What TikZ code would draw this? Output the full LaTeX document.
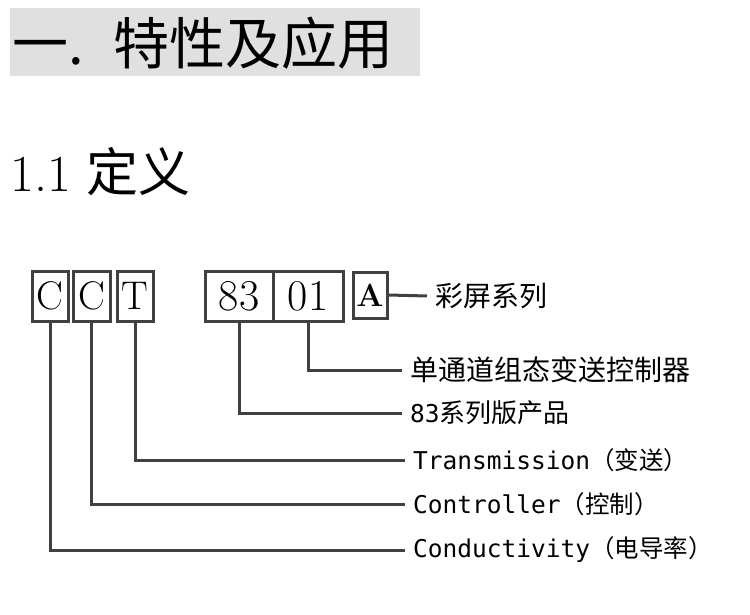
\documentclass[tikz,border=0pt]{standalone}
\usepackage{fontspec}
\newfontfamily\cjk{Noto Sans CJK SC}
\newfontfamily\mono{DejaVu Sans Mono}
\begin{document}
\begin{tikzpicture}[x=1pt,y=-1pt,
  box/.style={draw=black!75,line width=3pt,inner sep=0pt,font=\fontsize{40}{40}\selectfont},
  lbl/.style={anchor=west,inner sep=0pt,font=\mono\fontsize{24.5}{24}\selectfont},
  wire/.style={draw=black!75,line width=3pt}]
\useasboundingbox (0,0) rectangle (750,615);
\fill[black!12] (10,8) rectangle (420,76);
\node[anchor=west,inner sep=0pt,font=\cjk\fontsize{56}{56}\selectfont] (h1) at (12,43) {一.\hspace{30pt}特性及应用};
\node[anchor=west,inner sep=0pt,font=\fontsize{52}{52}\selectfont] (h2) at (10,172) {1.1\hspace{16pt}{\cjk 定义}};
\node[box,minimum width=36,minimum height=50] (c1) at (50,296) {C};
\node[box,minimum width=37,minimum height=50] (c2) at (91.5,296) {C};
\node[box,minimum width=36,minimum height=50] (t) at (135,296) {T};
\node[box,minimum width=68,minimum height=50,font=\fontsize{44}{44}\selectfont] (n83) at (239,296) {83};
\node[box,minimum width=70,minimum height=50,font=\fontsize{44}{44}\selectfont] (n01) at (308,296) {01};
\node[box,minimum width=34,minimum height=46,font=\bfseries\fontsize{32}{32}\selectfont] (a) at (370,295) {A};
\node[lbl,font=\cjk\fontsize{28}{28}\selectfont] (la) at (435,296) {彩屏系列};
\node[lbl,font=\cjk\fontsize{28}{28}\selectfont] (l01) at (410,370) {单通道组态变送控制器};
\node[lbl] (l83) at (410,413) {83{\cjk\fontsize{26}{26}\selectfont 系列版产品}};
\node[lbl] (lt) at (413,460) {Transmission{\cjk （变送）}};
\node[lbl] (lc2) at (413,504) {Controller{\cjk （控制）}};
\node[lbl] (lc1) at (413,550) {Conductivity{\cjk （电导率）}};
\draw[wire] (a.east) -- ([xshift=-8pt]la.west);
\draw[wire] (n01.south) -- (n01.south |- l01.west) -- ([xshift=-8pt]l01.west);
\draw[wire] (n83.south) -- (n83.south |- l83.west) -- ([xshift=-8pt]l83.west);
\draw[wire] (t.south) -- (t.south |- lt.west) -- ([xshift=-8pt]lt.west);
\draw[wire] (c2.south) -- (c2.south |- lc2.west) -- ([xshift=-8pt]lc2.west);
\draw[wire] (c1.south) -- (c1.south |- lc1.west) -- ([xshift=-8pt]lc1.west);
\end{tikzpicture}
\end{document}
